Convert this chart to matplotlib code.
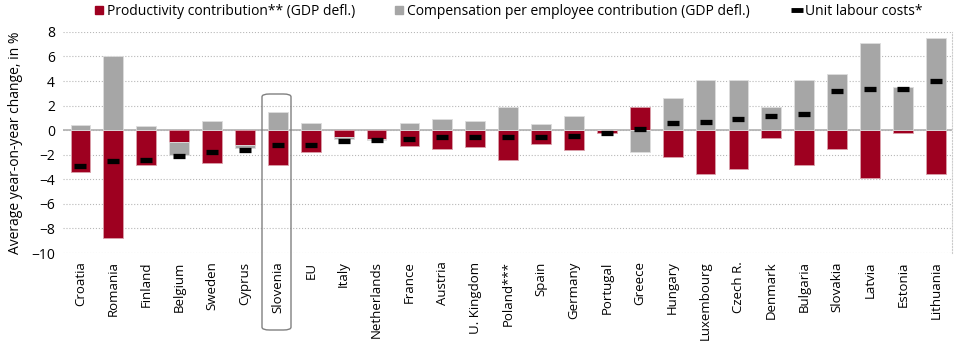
import matplotlib.pyplot as plt
from matplotlib.lines import Line2D
from matplotlib.patches import FancyBboxPatch
import numpy as np

plt.rcParams['font.family'] = ['Open Sans', 'DejaVu Sans']

countries = ['Croatia', 'Romania', 'Finland', 'Belgium', 'Sweden', 'Cyprus', 'Slovenia', 'EU',
             'Italy', 'Netherlands', 'France', 'Austria', 'U. Kingdom', 'Poland***', 'Spain',
             'Germany', 'Portugal', 'Greece', 'Hungary', 'Luxembourg', 'Czech R.', 'Denmark',
             'Bulgaria', 'Slovakia', 'Latvia', 'Estonia', 'Lithuania']
productivity = [-3.4, -8.8, -2.8, -1.0, -2.65, -1.2, -2.8, -1.75,
                -0.55, -0.75, -1.25, -1.5, -1.35, -2.45, -1.1,
                -1.6, -0.25, 1.85, -2.15, -3.55, -3.2, -0.6,
                -2.85, -1.5, -3.9, -0.2, -3.55]
compensation = [0.38, 6.05, 0.33, -1.0, 0.75, -0.25, 1.5, 0.55,
                 -0.2, -0.05, 0.55, 0.93, 0.72, 1.9, 0.5,
                 1.15, 0.03, -1.8, 2.6, 4.1, 4.05, 1.85,
                 4.1, 4.6, 7.1, 3.5, 7.5]
ulc = [-2.9, -2.55, -2.4, -2.1, -1.8, -1.6, -1.2, -1.2,
       -0.88, -0.82, -0.72, -0.58, -0.52, -0.52, -0.52,
       -0.47, -0.22, 0.08, 0.57, 0.63, 0.93, 1.18,
       1.29, 3.18, 3.32, 3.37, 3.97]

red = '#9e0020'
grey = '#a6a6a6'

fig = plt.figure(figsize=(9.6, 3.5), dpi=100)
ax = fig.add_axes([0.066, 0.277, 0.926, 0.632])

x = np.arange(len(countries))
prod = np.array(productivity)
comp = np.array(compensation)
# stack: positives upward from 0, negatives downward from 0, productivity first
comp_bottom = np.where(np.sign(comp) == np.sign(prod), prod, 0.0)

ax.bar(x, prod, width=0.6, color=red, edgecolor='#d9a0aa', linewidth=0.6, zorder=3)
ax.bar(x, comp, bottom=comp_bottom, width=0.6, color=grey, edgecolor='#dddddd', linewidth=0.6, zorder=3)
ax.plot(x, ulc, linestyle='none', marker='_', markersize=9, markeredgewidth=3.8,
        color='black', zorder=5)

ax.axhline(0, color='#b0b0b0', linewidth=1.2, zorder=2)
ax.set_ylim(-10, 8)
ax.set_yticks(range(-10, 9, 2))
ax.set_xlim(-0.52, 26.5)
ax.set_xticks(x)
ax.set_xticklabels(countries, rotation=90, fontsize=9.5)
ax.tick_params(axis='y', labelsize=10, length=0, pad=6)
ax.tick_params(axis='x', length=0, pad=6)
ax.grid(axis='y', linestyle=':', color='#b8b8b8', linewidth=0.8, zorder=0)
for s in ['left', 'top', 'bottom']:
    ax.spines[s].set_visible(False)
ax.spines['right'].set_color('#cccccc')
ax.spines['right'].set_linestyle(':')
ax.set_ylabel('Average year-on-year change, in %', fontsize=10, labelpad=6)

# highlight box around Slovenia
box = FancyBboxPatch((262 / 960, 1 - 330 / 350), 29 / 960, (330 - 94) / 350,
                     boxstyle='round,pad=0,rounding_size=0.008', transform=fig.transFigure,
                     facecolor='none', edgecolor='#808080', linewidth=1.0, zorder=10)
fig.patches.append(box)

handles = [Line2D([], [], linestyle='none', marker='s', markersize=6, color=red),
           Line2D([], [], linestyle='none', marker='s', markersize=6, color=grey),
           Line2D([], [], linestyle='none', marker='_', markersize=8, markeredgewidth=3.5, color='black')]
labels = ['Productivity contribution** (GDP defl.)',
          'Compensation per employee contribution (GDP defl.)',
          'Unit labour costs*']
legend_x = [92, 392, 790]
for h, lab, lx in zip(handles, labels, legend_x):
    fig.legend([h], [lab], loc='upper left', bbox_to_anchor=(lx / 960, 1 - 4 / 350),
               frameon=False, fontsize=10, handletextpad=0.1, handlelength=1.0,
               borderpad=0, borderaxespad=0)

fig.savefig('out.png', dpi=100)
